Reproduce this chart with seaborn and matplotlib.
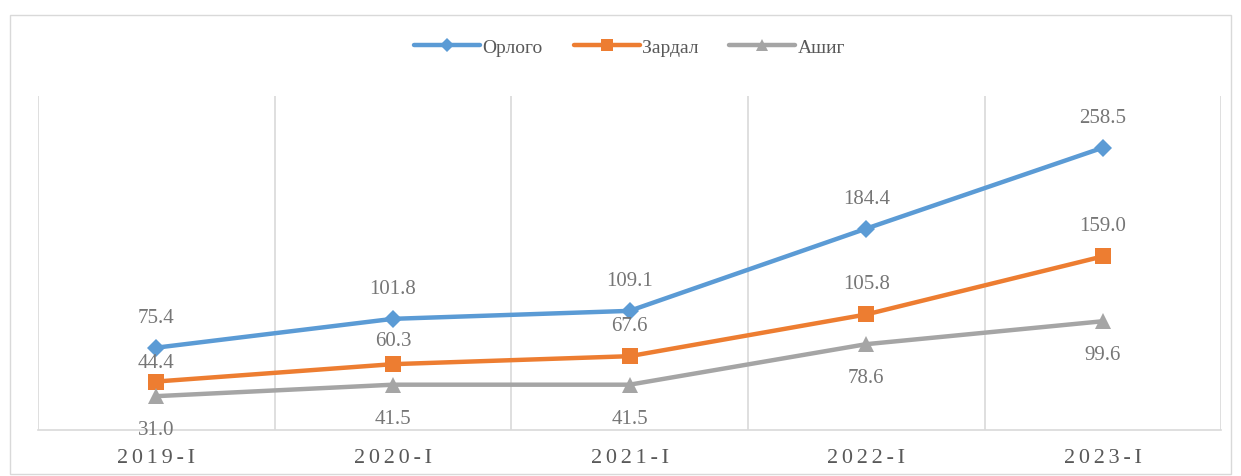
import pandas as pd
import matplotlib.pyplot as plt
import seaborn as sns
from matplotlib.patches import Rectangle

periods = ['2019-I', '2020-I', '2021-I', '2022-I', '2023-I']
orlogo = [75.4, 101.8, 109.1, 184.4, 258.5]
zardal = [44.4, 60.3, 67.6, 105.8, 159.0]
ashig = [31.0, 41.5, 41.5, 78.6, 99.6]

names = ['Орлого', 'Зардал', 'Ашиг']
colors = {'Орлого': '#5B9BD5', 'Зардал': '#ED7D31', 'Ашиг': '#A5A5A5'}
markers = {'Орлого': 'D', 'Зардал': 's', 'Ашиг': '^'}
msize = {'Орлого': 9, 'Зардал': 12, 'Ашиг': 12}
# label offsets in points (first two orange labels were nudged down in the original)
offsets = {'Орлого': [22] * 5, 'Зардал': [14, 17, 22, 22, 22], 'Ашиг': [-24] * 5}

df = pd.DataFrame({'period': periods * 3,
                   'x': list(range(len(periods))) * 3,
                   'value': orlogo + zardal + ashig,
                   'series': [n for n in names for _ in periods]})

sns.set_style('white')
plt.rcParams['font.family'] = ['Liberation Serif', 'DejaVu Serif']

fig = plt.figure(figsize=(12.41, 4.77), dpi=100)
ax = fig.add_axes([0.0306, 0.0964, 0.9534, 0.7006])

for n in names:
    d = df[df['series'] == n]
    sns.lineplot(data=d, x='x', y='value', color=colors[n], marker=markers[n],
                 markersize=msize[n], markeredgewidth=0, linewidth=3.2,
                 label=n, ax=ax)
    for xi, v, off in zip(d['x'], d['value'], offsets[n]):
        ax.annotate(f'{v:.1f}', (xi, v), xytext=(0, off), textcoords='offset points',
                    ha='center', va='center', fontsize=15, color='#767676')

ax.set_xlim(-0.5, len(periods) - 0.5)
ax.set_ylim(0, 306)
ax.set_xticks(range(len(periods)))
ax.set_xticklabels(['\u200a\u200a'.join(p) for p in periods], fontsize=16, color='#595959')
ax.set_xticks([i + 0.5 for i in range(-1, len(periods))], minor=True)
ax.tick_params(axis='x', which='both', length=0, pad=13)
ax.set_yticks([])
ax.grid(which='minor', axis='x', color='#D9D9D9', linewidth=1.2)
ax.set_xlabel('')
ax.set_ylabel('')
for s in ['top', 'left', 'right']:
    ax.spines[s].set_visible(False)
ax.spines['bottom'].set_color('#D9D9D9')
ax.spines['bottom'].set_linewidth(1.2)

ax.legend(loc='center', bbox_to_anchor=(0.5, 1.146), ncol=3, frameon=False,
          fontsize=14, handlelength=3.4, columnspacing=1.6, handletextpad=0.1,
          markerscale=0.75, labelcolor='#595959')

fig.patches.append(Rectangle((0.008, 0.004), 0.984, 0.962, transform=fig.transFigure,
                             fill=False, edgecolor='#D9D9D9', linewidth=1))

fig.savefig('out.png', dpi=100)
